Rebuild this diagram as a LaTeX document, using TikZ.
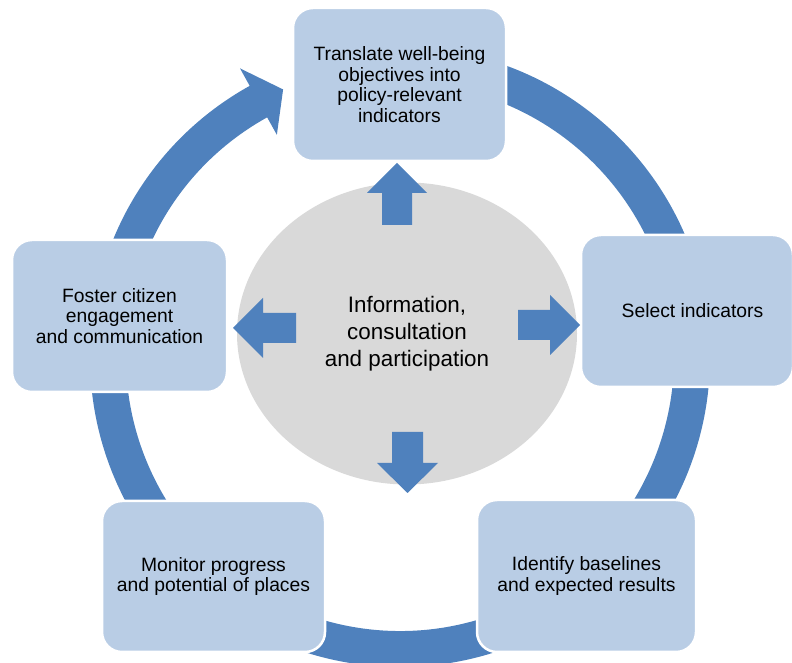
\documentclass[tikz,border=0pt]{standalone}
\usepackage{fontspec}
\setmainfont{Liberation Sans}
\usetikzlibrary{shapes.geometric}
\definecolor{ringblue}{HTML}{4F81BD}
\definecolor{boxblue}{HTML}{B9CDE5}
\definecolor{hubgray}{HTML}{D9D9D9}
\begin{document}
\begin{tikzpicture}[x=1pt,y=1pt,
  stepbox/.style={rectangle, rounded corners=20pt, fill=boxblue, draw=white, line width=2.5pt,
    align=center, inner sep=0pt, font=\fontsize{19.3}{20.5}\selectfont, text=black},
  hubshape/.style={ellipse, fill=hubgray, inner sep=0pt, minimum width=340pt, minimum height=302pt,
    align=center, font=\fontsize{22.4}{27}\selectfont, text=black},
  blockarrow/.style={fill=ringblue},
  ringband/.style={fill=ringblue}]
\useasboundingbox (0,0) rectangle (792,663);

% ring with arrow head
\begin{scope}[shift={(400,306)}]
\fill[ringband] (90:310) arc[start angle=90, end angle=-241, radius=310]
  -- (-241:330) -- (-246.4:292) -- (-241:254) -- (-241:274)
  arc[start angle=-241, end angle=90, radius=274] -- cycle;
\end{scope}

% boxes
\node[stepbox, minimum width=213pt, minimum height=153pt] (top) at (399.5,578.5)
  {Translate well-being\\objectives into\\policy-relevant\\indicators};
\node[stepbox, minimum width=212pt, minimum height=152pt] (right) at (687,352)
  {\hspace*{11pt}Select indicators};
\node[stepbox, minimum width=219pt, minimum height=152pt] (br) at (586.5,87)
  {Identify baselines\\and expected results};
\node[stepbox, minimum width=223pt, minimum height=151pt] (bl) at (213.5,86.5)
  {Monitor progress\\and potential of places};
\node[stepbox, minimum width=215pt, minimum height=152pt] (left) at (119.5,347)
  {Foster citizen\\engagement\\and communication};

% hub
\node[hubshape] (hub) at (407,329.5) {Information,\\consultation\\and participation};

% block arrows from hub
\fill[blockarrow] (382,438) -- (382,470) -- (367,470) -- (397,500) -- (427,470) -- (412,470) -- (412,438) -- cycle;
\fill[blockarrow] (392,231) -- (392,200) -- (377,200) -- (407.5,170) -- (438,200) -- (423,200) -- (423,231) -- cycle;
\fill[blockarrow] (296,350) -- (263,350) -- (263,365) -- (233,335) -- (263,305) -- (263,320) -- (296,320) -- cycle;
\fill[blockarrow] (518,353) -- (550,353) -- (550,368) -- (580,338) -- (550,308) -- (550,323) -- (518,323) -- cycle;
\end{tikzpicture}
\end{document}
